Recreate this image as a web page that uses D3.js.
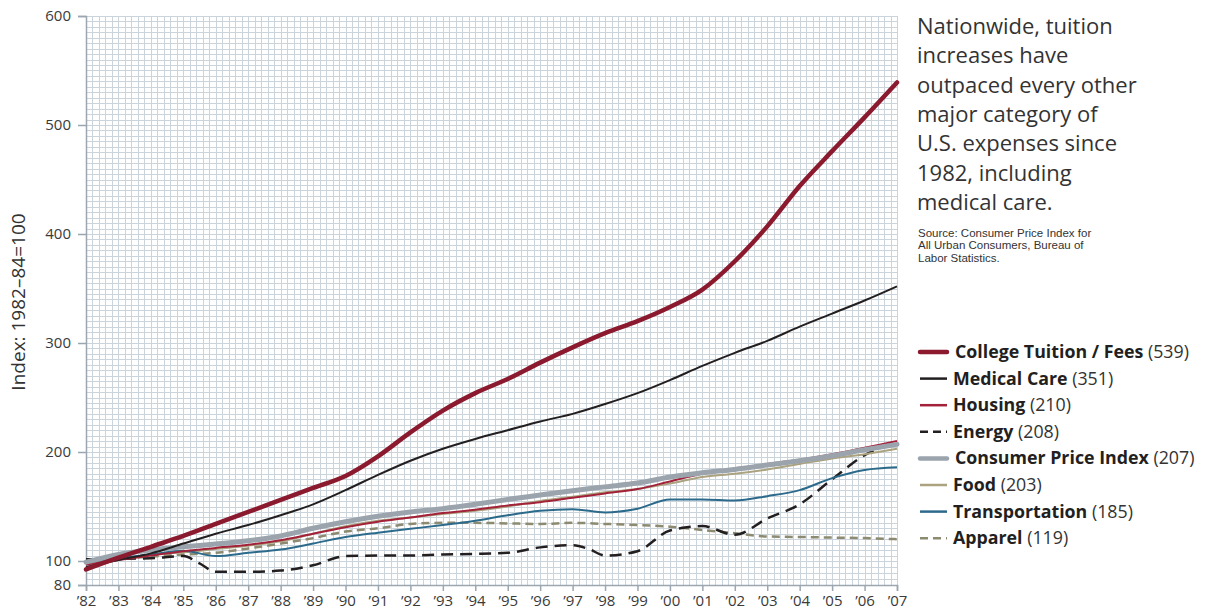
<!DOCTYPE html>
<html>
<head>
<meta charset="utf-8">
<script src="https://cdn.jsdelivr.net/npm/d3@7"></script>
<style>
body{margin:0;background:#fff;}
svg{display:block;font-family:'Open Sans',sans-serif;}
</style>
</head>
<body>
<div id="chart"></div>
<script>
var years = [1982,1983,1984,1985,1986,1987,1988,1989,1990,1991,1992,1993,1994,1995,1996,1997,1998,1999,2000,2001,2002,2003,2004,2005,2006,2007]
var tuition = [93,103,113,123,134,145,156,167,178,196,218,238,254,267,282,296,309,320,333,349,375,407,444,476,507,539]
var medical = [95,101,107,116,125,133,142,152,165,179,192,203,212,220,228,235,244,254,266,279,291,302,315,327,339,352]
var housing = [97,101,105,109,112,115,119,125,131,136,140,144,147,151,154,158,162,166,173,180,184,189,193,198,204,210]
var cpi = [99,106,110,113,115.5,118.5,123,130,136,141,145,148,152,156.5,160.5,164.5,168,171.5,177,181,184,188,192,196.5,202,207]
var food = [98,102,106,108,111,114,118,125,132,137,140,143,146,150,155,159,163,166,171,177,180,184,189,194,198,203]
var transportation = [98.5,102.5,106,109.5,104.5,107.5,110.5,116,122,126,129.5,133,137,142,146,147.5,144.5,148,156.5,156.5,155.5,159.5,165,176,183.5,186]
var apparel = [99,102,104,106,107.5,111.5,116,121,127,130,134,135,135,134.5,134,135,134,133,131.5,128.5,125.5,122.5,122,121.5,121,120]
var energyYears = [1982,1983,1984,1985,1985.5,1986,1987,1988,1989,1990,1991,1992,1993,1994,1995,1996,1997,1997.5,1998,1999,2000,2001,2002,2003,2004,2005,2006,2007]
var energy = [101.5,102,102.5,104.5,98,91,91,92,96.5,104.5,105,105,106,106.5,107.5,112.5,114.5,111,105,109,128,132,124,139,152,175,197,209]

var names = ['College Tuition / Fees','Medical Care','Housing','Energy','Consumer Price Index','Food','Transportation','Apparel']
var endLabels = ['(539)','(351)','(210)','(208)','(207)','(203)','(185)','(119)']
var yTicks = [80,100,200,300,400,500,600]
var yTitle = 'Index: 1982\u201384=100'
var note = ['Nationwide, tuition','increases have','outpaced every other','major category of','U.S. expenses since','1982, including','medical care.']
var source = ['Source: Consumer Price Index for','All Urban Consumers, Bureau of','Labor Statistics.']

var colors = ['#8b1a2f','#231f20','#a3223a','#231f20','#9ba4ad','#aba27f','#2c6a8b','#8c8a70']
var widths = [4.5,2,2,2.5,5,2,2,2.5]
var dashes = [null,null,null,'12,7',null,null,null,'8,5']
var legendDash = [null,null,null,'8,5',null,null,null,'8,5']

var series = [
    {x: years, y: tuition},
    {x: years, y: medical},
    {x: years, y: housing},
    {x: energyYears, y: energy},
    {x: years, y: cpi},
    {x: years, y: food},
    {x: years, y: transportation},
    {x: years, y: apparel}
]
var drawOrder = [7,3,5,6,2,4,1,0]

var svg = d3.select('#chart')
            .append('svg')
            .attr('width', 1207)
            .attr('height', 611)

var x = d3.scaleLinear().domain([1982, 2007]).range([86, 897])
var y = d3.scaleLinear().domain([80, 100, 600]).range([585, 561, 16])

// grid
var grid = svg.append('g').attr('shape-rendering', 'crispEdges')
grid.selectAll('line.v')
    .data(d3.range(0, 126).map(function(i){ return 1982 + i / 5 }))
    .enter().append('line')
    .attr('class', 'v')
    .attr('x1', function(d){ return Math.round(x(d)) + 0.5 })
    .attr('x2', function(d){ return Math.round(x(d)) + 0.5 })
    .attr('y1', y(600))
    .attr('y2', y(80))
    .attr('stroke', '#cbd3db')
    .attr('stroke-width', 1)
grid.selectAll('line.h')
    .data(d3.range(80, 601, 5))
    .enter().append('line')
    .attr('class', 'h')
    .attr('y1', function(d){ return Math.round(y(d)) + 0.5 })
    .attr('y2', function(d){ return Math.round(y(d)) + 0.5 })
    .attr('x1', x(1982))
    .attr('x2', x(2007))
    .attr('stroke', '#cbd3db')
    .attr('stroke-width', 1)

// axes
var yAxis = svg.append('g')
    .attr('transform', 'translate(86,0)')
    .call(d3.axisLeft(y).tickValues(yTicks).tickSize(8).tickPadding(7))
var xAxis = svg.append('g')
    .attr('transform', 'translate(0,585)')
    .call(d3.axisBottom(x).tickValues(years).tickSize(6).tickPadding(4)
        .tickFormat(function(d){ return '\u2019' + String(d).slice(2) }))
svg.selectAll('.domain').attr('stroke', '#9ba6b1').attr('stroke-width', 1.5)
svg.selectAll('.tick line').attr('stroke', '#9ba6b1').attr('stroke-width', 1.5)
svg.selectAll('.tick text').attr('fill', '#3a3a3a').style('font-size', '15px').style('font-family', "'Open Sans',sans-serif")

svg.append('text')
    .attr('transform', 'translate(25,302) rotate(-90)')
    .style('text-anchor', 'middle')
    .style('font-size', '19px')
    .attr('fill', '#333')
    .text(yTitle)

// lines
var line = d3.line().curve(d3.curveMonotoneX)
drawOrder.forEach(function(i){
    var s = series[i]
    svg.append('path')
        .datum(s.x.map(function(d, k){ return [x(d), y(s.y[k])] }))
        .attr('d', line)
        .attr('fill', 'none')
        .attr('stroke', colors[i])
        .attr('stroke-width', widths[i])
        .attr('stroke-dasharray', dashes[i])
        .attr('stroke-linecap', i == 0 || i == 4 ? 'round' : 'butt')
})

// note
var noteText = svg.append('text')
    .attr('fill', '#333')
    .style('font-size', '22px')
noteText.selectAll('tspan')
    .data(note)
    .enter().append('tspan')
    .attr('x', 917)
    .attr('y', function(d, i){ return 34 + i * 29.3 })
    .text(function(d){ return d })

var sourceText = svg.append('text')
    .attr('fill', '#333')
    .style('font-family', "'Liberation Sans',Arial,sans-serif")
    .style('font-size', '11.5px')
sourceText.selectAll('tspan')
    .data(source)
    .enter().append('tspan')
    .attr('x', 918)
    .attr('y', function(d, i){ return 236.5 + i * 12.6 })
    .text(function(d){ return d })

// legend
var legend = svg.append('g')
names.forEach(function(name, i){
    var cy = 352 + i * 26.6
    legend.append('line')
        .attr('x1', 920)
        .attr('x2', 947)
        .attr('y1', cy)
        .attr('y2', cy)
        .attr('stroke', colors[i])
        .attr('stroke-width', i == 0 || i == 4 ? 4.5 : 2.5)
        .attr('stroke-linecap', i == 0 || i == 4 ? 'round' : 'butt')
        .attr('stroke-dasharray', legendDash[i])
    var t = legend.append('text')
        .attr('x', i == 0 || i == 4 ? 955 : 953)
        .attr('y', cy + 6)
        .attr('fill', '#231f20')
        .style('font-size', '17.8px')
    t.append('tspan').style('font-weight', 'bold').text(name)
    t.append('tspan').style('fill', '#333').text(' ' + endLabels[i])
})
</script>
</body>
</html>
